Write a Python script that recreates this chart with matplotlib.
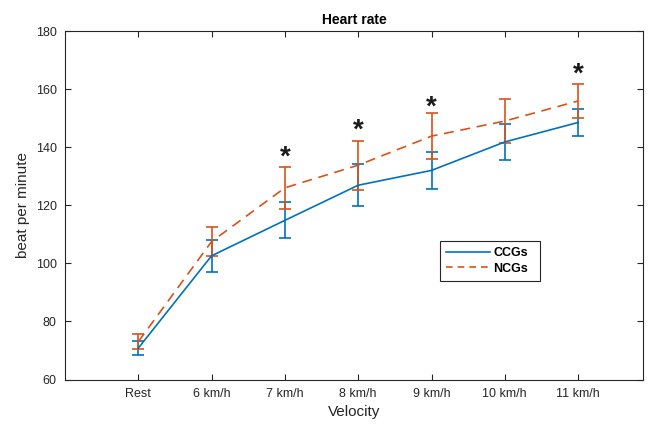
import numpy as np
import matplotlib
matplotlib.use("Agg")
import matplotlib.pyplot as plt
from matplotlib.lines import Line2D

plt.rcParams['font.family'] = ['Liberation Sans', 'DejaVu Sans']

# Datos
categories = ['Rest', '6 km/h', '7 km/h', '8 km/h', '9 km/h', '10 km/h', '11 km/h']
ccg_mean = [70.8, 102.6, 114.8, 126.9, 132.0, 141.8, 148.5]
ccg_err = [2.3, 5.5, 6.2, 7.3, 6.5, 6.2, 4.5]
ncg_mean = [73.0, 107.5, 126.0, 133.8, 143.8, 149.0, 155.9]
ncg_err = [2.6, 4.9, 7.2, 8.4, 7.8, 7.7, 6.0]
star_idx = [2, 3, 4, 6]
star_y = [138.5, 147.9, 155.9, 167.2]

blue = (0, 0.447, 0.741)
orange = (0.85, 0.325, 0.098)

fig = plt.figure(figsize=(6.48, 4.29), dpi=100)
ax = fig.add_axes([65 / 648, 1 - 379.5 / 429, 578 / 648, 348.5 / 429])

x = np.arange(1, len(categories) + 1)
ax.errorbar(x, ccg_mean, yerr=ccg_err, color=blue, lw=1.2, capsize=4,
            elinewidth=1.2, capthick=1.2)
ax.errorbar(x, ncg_mean, yerr=ncg_err, color=orange, lw=1.2, ls='--',
            dashes=(6, 4), capsize=4, elinewidth=1.2, capthick=1.2)

# asteriscos de significancia
for i, yv in zip(star_idx, star_y):
    ax.text(x[i], yv - 2.2, '*', ha='center', va='center', fontsize=20,
            fontweight='bold', color='#1a1a1a')

ax.set_xlim(0, 578 / 73.3)
ax.set_ylim(60, 180)
ax.set_xticks(x)
ax.set_xticklabels(categories)
ax.set_yticks(np.arange(60, 181, 20))
ax.tick_params(direction='in', top=True, right=True, length=4,
               labelsize=9, colors='#262626', pad=6)
for s in ax.spines.values():
    s.set_color('#262626')
    s.set_linewidth(0.8)

ax.set_title('Heart rate', fontsize=10, fontweight='bold', pad=5)
ax.set_xlabel('Velocity', fontsize=11, color='#262626')
ax.set_ylabel('beat per minute', fontsize=11, color='#262626')

handles = [Line2D([], [], color=blue, lw=1.2),
           Line2D([], [], color=orange, lw=1.2, ls='--', dashes=(4, 3))]
leg = ax.legend(handles, ['CCGs', 'NCGs'], loc='lower left',
                bbox_to_anchor=(0.648, 0.283, 0.173, 0.112), mode='expand',
                borderaxespad=0, prop={'weight': 'bold', 'size': 9},
                fancybox=False, framealpha=1, edgecolor='#262626',
                handlelength=3.5, handletextpad=0.3, borderpad=0.5,
                labelspacing=0.25)
leg.get_frame().set_linewidth(0.8)

fig.savefig('out.png', dpi=100, facecolor='white')
